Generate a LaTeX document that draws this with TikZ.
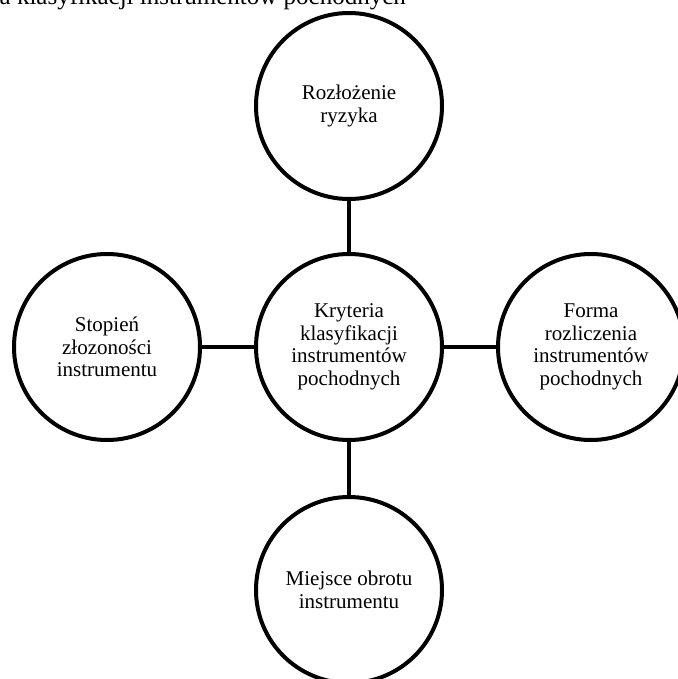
\documentclass[tikz,border=0pt]{standalone}
\usepackage{fontspec}
\setmainfont{Liberation Serif}
\begin{document}
\begin{tikzpicture}[x=1pt,y=-1pt,
  crit/.style={draw=black, line width=4pt, circle, minimum size=186pt, inner sep=0pt,
    align=center, font=\fontsize{21}{22.6}\selectfont},
  link/.style={draw=black, line width=4pt}]
  \useasboundingbox (0,0) rectangle (677,679);
  % heading above the diagram
  \node[anchor=base east, inner sep=0pt, font=\fontsize{25}{30}\selectfont] (title) at (406,5)
    {Kryteria klasyfikacji instrumentów pochodnych};
  % central criterion and the four classification criteria around it
  \node[crit] (center) at (349,347) {Kryteria\\klasyfikacji\\instrumentów\\pochodnych};
  \node[crit] (top) at (349,106) {Rozłożenie\\ryzyka};
  \node[crit] (left) at (107,347) {Stopień\\złozoności\\instrumentu};
  \node[crit] (right) at (591,347) {Forma\\rozliczenia\\instrumentów\\pochodnych};
  \node[crit] (bottom) at (349,590) {Miejsce obrotu\\instrumentu};
  % connectors
  \draw[link] (center) -- (top);
  \draw[link] (center) -- (left);
  \draw[link] (center) -- (right);
  \draw[link] (center) -- (bottom);
\end{tikzpicture}
\end{document}
